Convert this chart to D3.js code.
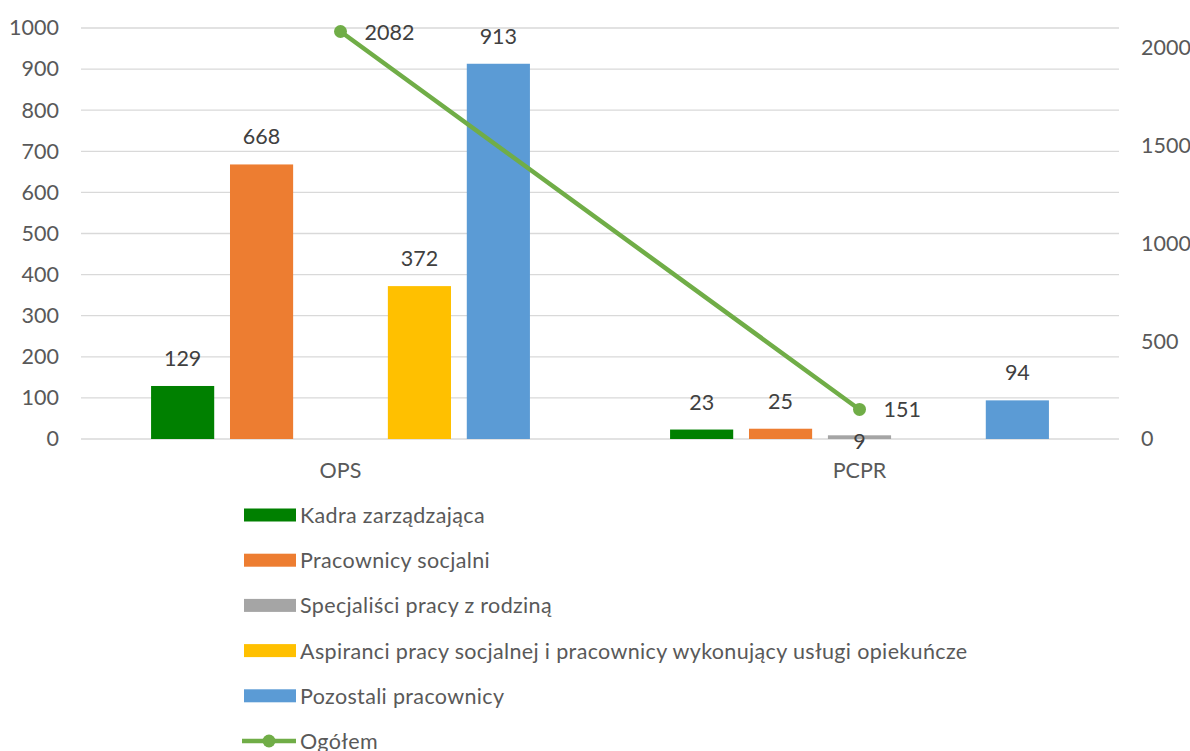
<!DOCTYPE html>
<html>
<head>
<meta charset="utf-8">
<script src="https://cdn.jsdelivr.net/npm/d3@7"></script>
<style>
  body { margin: 0; background: #fff; }
  svg { font-family: Lato, "Open Sans", sans-serif; }
</style>
</head>
<body>
<svg id="chart" width="1190" height="751"></svg>
<script>
const categories = ["OPS", "PCPR"];
const seriesNames = [
  "Kadra zarządzająca",
  "Pracownicy socjalni",
  "Specjaliści pracy z rodziną",
  "Aspiranci pracy socjalnej i pracownicy wykonujący usługi opiekuńcze",
  "Pozostali pracownicy"
];
const seriesColors = ["#008000", "#ed7d31", "#a5a5a5", "#ffc000", "#5b9bd5"];
// values per series, one per category (null = no bar)
const kadra = [129, 23];
const socjalni = [668, 25];
const specjalisci = [null, 9];
const aspiranci = [372, null];
const pozostali = [913, 94];
const ogolem = [2082, 151];
const lineName = "Ogółem";
const lineColor = "#70ad47";
const leftTicks = [0, 100, 200, 300, 400, 500, 600, 700, 800, 900, 1000];
const rightTicks = [0, 500, 1000, 1500, 2000];

const barSeries = [kadra, socjalni, specjalisci, aspiranci, pozostali];

const dims = {
  width: 1190,
  height: 751,
  margin: { top: 28, left: 81, right: 71, bottom: 312 }
};
const plot = {
  x0: dims.margin.left,
  x1: dims.width - dims.margin.right,
  y0: dims.height - dims.margin.bottom,
  y1: dims.margin.top
};

const svg = d3.select("#chart");
const textColor = "#595959";
const fontSize = 21.5;

const x0 = d3.scaleBand().domain(categories).range([plot.x0, plot.x1]).padding(0);
const groupPad = x0.bandwidth() * 0.135;
const x1 = d3.scaleBand()
  .domain(d3.range(seriesNames.length))
  .range([groupPad, x0.bandwidth() - groupPad])
  .paddingInner(0.2)
  .paddingOuter(0);
const yLeft = d3.scaleLinear().domain([0, 1000]).range([plot.y0, plot.y1]);
const yRight = d3.scaleLinear().domain([0, 2100]).range([plot.y0, plot.y1]);

// gridlines
svg.append("g")
  .selectAll("line")
  .data(leftTicks)
  .join("line")
  .attr("x1", plot.x0)
  .attr("x2", plot.x1)
  .attr("y1", d => yLeft(d))
  .attr("y2", d => yLeft(d))
  .attr("stroke", "#d9d9d9")
  .attr("stroke-width", 1.3);

// left axis
const axisL = svg.append("g")
  .attr("transform", `translate(${plot.x0 - 22},0)`)
  .call(d3.axisLeft(yLeft).tickValues(leftTicks).tickSize(0).tickPadding(0).tickFormat(d3.format("d")));
axisL.select(".domain").remove();
axisL.selectAll("text")
  .attr("fill", textColor)
  .style("font-size", fontSize + "px")
  .style("font-family", "Lato, sans-serif");

// right axis
const axisR = svg.append("g")
  .attr("transform", `translate(${plot.x1 + 22},0)`)
  .call(d3.axisRight(yRight).tickValues(rightTicks).tickSize(0).tickPadding(0).tickFormat(d3.format("d")));
axisR.select(".domain").remove();
axisR.selectAll("text")
  .attr("fill", textColor)
  .style("font-size", fontSize + "px")
  .style("font-family", "Lato, sans-serif");

// category labels
svg.append("g")
  .selectAll("text")
  .data(categories)
  .join("text")
  .attr("x", d => x0(d) + x0.bandwidth() / 2)
  .attr("y", plot.y0 + 39)
  .attr("text-anchor", "middle")
  .attr("fill", textColor)
  .style("font-size", fontSize + "px")
  .text(d => d);

// bars
const barData = [];
categories.forEach((c, ci) => {
  barSeries.forEach((s, si) => {
    if (s[ci] !== null) barData.push({ cat: c, si, value: s[ci] });
  });
});

svg.append("g")
  .selectAll("rect")
  .data(barData)
  .join("rect")
  .attr("x", d => x0(d.cat) + x1(d.si))
  .attr("y", d => yLeft(d.value))
  .attr("width", x1.bandwidth())
  .attr("height", d => yLeft(0) - yLeft(d.value))
  .attr("fill", d => seriesColors[d.si]);

// bar labels; small bar under the line marker gets its label below the axis
svg.append("g")
  .selectAll("text")
  .data(barData)
  .join("text")
  .attr("x", d => x0(d.cat) + x1(d.si) + x1.bandwidth() / 2)
  .attr("y", d => d.cat === "PCPR" && d.si === 2 ? yLeft(0) + 10 : yLeft(d.value) - 20)
  .attr("text-anchor", "middle")
  .attr("fill", "#404040")
  .style("font-size", fontSize + "px")
  .text(d => d.value);

// line series
const lineData = categories.map((c, i) => ({ cat: c, value: ogolem[i] }));
const lx = d => x0(d.cat) + x0.bandwidth() / 2;
svg.append("path")
  .datum(lineData)
  .attr("fill", "none")
  .attr("stroke", lineColor)
  .attr("stroke-width", 4.5)
  .attr("stroke-linecap", "round")
  .attr("d", d3.line().x(lx).y(d => yRight(d.value)));

svg.append("g")
  .selectAll("circle")
  .data(lineData)
  .join("circle")
  .attr("cx", lx)
  .attr("cy", d => yRight(d.value))
  .attr("r", 6.5)
  .attr("fill", lineColor);

svg.append("g")
  .selectAll("text")
  .data(lineData)
  .join("text")
  .attr("x", d => lx(d) + 24)
  .attr("y", d => yRight(d.value) + 8)
  .attr("fill", "#404040")
  .style("font-size", fontSize + "px")
  .text(d => d.value);

// legend
const legendX = 244;
const legendY = 515;
const legendStep = 45.2;
const legend = svg.append("g");
seriesNames.forEach((name, i) => {
  const g = legend.append("g")
    .attr("transform", `translate(${legendX},${legendY + i * legendStep})`);
  g.append("rect")
    .attr("x", 0)
    .attr("y", -6.5)
    .attr("width", 52)
    .attr("height", 13)
    .attr("fill", seriesColors[i]);
  g.append("text")
    .attr("x", 56)
    .attr("y", 8)
    .attr("fill", textColor)
    .style("font-size", fontSize + "px")
    .style("letter-spacing", "0.35px")
    .text(name);
});
const lg = legend.append("g")
  .attr("transform", `translate(${legendX},${legendY + seriesNames.length * legendStep})`);
lg.append("line")
  .attr("x1", -2)
  .attr("x2", 52)
  .attr("y1", 0)
  .attr("y2", 0)
  .attr("stroke", lineColor)
  .attr("stroke-width", 4.5);
lg.append("circle")
  .attr("cx", 25)
  .attr("cy", 0)
  .attr("r", 6.5)
  .attr("fill", lineColor);
lg.append("text")
  .attr("x", 56)
  .attr("y", 8)
  .attr("fill", textColor)
  .style("font-size", fontSize + "px")
  .style("letter-spacing", "0.35px")
  .text(lineName);
</script>
</body>
</html>
